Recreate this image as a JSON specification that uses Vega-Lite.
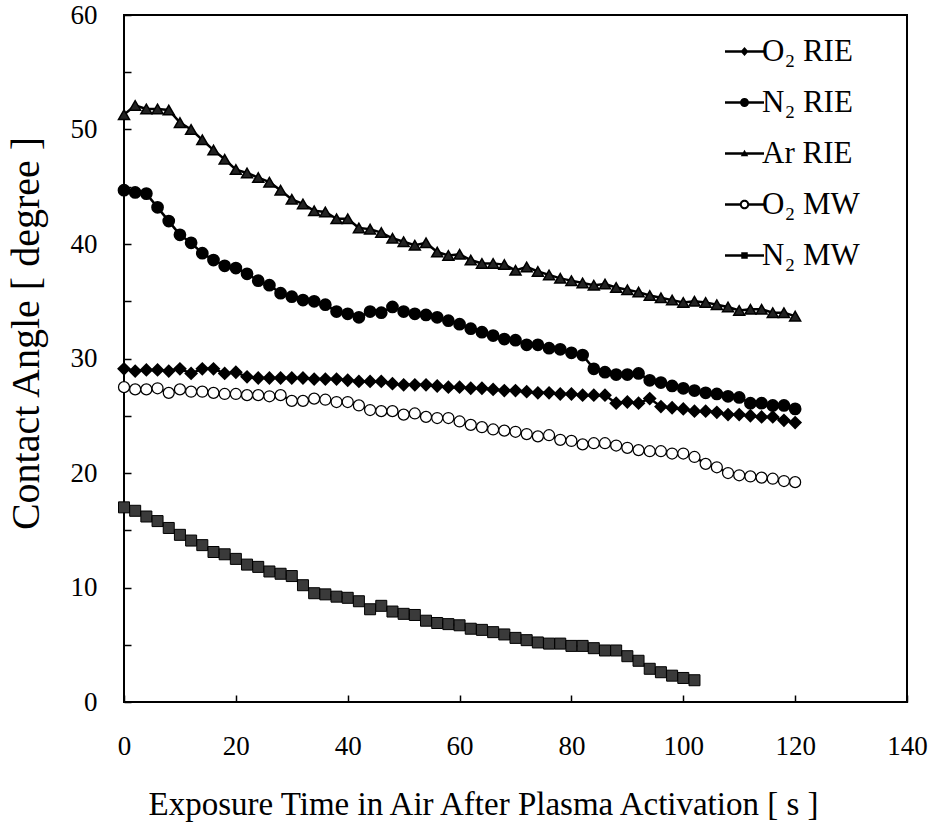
{
  "$schema": "https://vega.github.io/schema/vega-lite/v6.json",
  "autosize": "none",
  "padding": {"left": 124, "top": 15, "right": 25, "bottom": 121},
  "width": 783,
  "height": 687,
  "background": "white",
  "config": {
    "view": {"stroke": "black", "strokeWidth": 2},
    "font": "Liberation Serif",
    "axis": {"grid": false, "domain": false, "labelFont": "Liberation Serif", "titleFont": "Liberation Serif", "labelColor": "black", "titleColor": "black", "tickColor": "black", "titleFontWeight": "normal"}
  },
  "data": {"values": [
    {"s":"O₂ RIE","t":0,"y":29.1},{"s":"O₂ RIE","t":2,"y":28.9},{"s":"O₂ RIE","t":4,"y":29.0},{"s":"O₂ RIE","t":6,"y":29.0},{"s":"O₂ RIE","t":8,"y":28.9},{"s":"O₂ RIE","t":10,"y":29.1},{"s":"O₂ RIE","t":12,"y":28.7},{"s":"O₂ RIE","t":14,"y":29.1},{"s":"O₂ RIE","t":16,"y":29.1},{"s":"O₂ RIE","t":18,"y":28.7},{"s":"O₂ RIE","t":20,"y":28.8},{"s":"O₂ RIE","t":22,"y":28.4},{"s":"O₂ RIE","t":24,"y":28.3},{"s":"O₂ RIE","t":26,"y":28.3},{"s":"O₂ RIE","t":28,"y":28.3},{"s":"O₂ RIE","t":30,"y":28.3},{"s":"O₂ RIE","t":32,"y":28.3},{"s":"O₂ RIE","t":34,"y":28.2},{"s":"O₂ RIE","t":36,"y":28.2},{"s":"O₂ RIE","t":38,"y":28.2},{"s":"O₂ RIE","t":40,"y":28.1},{"s":"O₂ RIE","t":42,"y":28.0},{"s":"O₂ RIE","t":44,"y":28.0},{"s":"O₂ RIE","t":46,"y":28.0},{"s":"O₂ RIE","t":48,"y":27.8},{"s":"O₂ RIE","t":50,"y":27.7},{"s":"O₂ RIE","t":52,"y":27.7},{"s":"O₂ RIE","t":54,"y":27.7},{"s":"O₂ RIE","t":56,"y":27.6},{"s":"O₂ RIE","t":58,"y":27.5},{"s":"O₂ RIE","t":60,"y":27.5},{"s":"O₂ RIE","t":62,"y":27.4},{"s":"O₂ RIE","t":64,"y":27.4},{"s":"O₂ RIE","t":66,"y":27.3},{"s":"O₂ RIE","t":68,"y":27.2},{"s":"O₂ RIE","t":70,"y":27.2},{"s":"O₂ RIE","t":72,"y":27.1},{"s":"O₂ RIE","t":74,"y":27.0},{"s":"O₂ RIE","t":76,"y":27.0},{"s":"O₂ RIE","t":78,"y":26.9},{"s":"O₂ RIE","t":80,"y":26.9},{"s":"O₂ RIE","t":82,"y":26.8},{"s":"O₂ RIE","t":84,"y":26.8},{"s":"O₂ RIE","t":86,"y":26.8},{"s":"O₂ RIE","t":88,"y":26.1},{"s":"O₂ RIE","t":90,"y":26.2},{"s":"O₂ RIE","t":92,"y":26.1},{"s":"O₂ RIE","t":94,"y":26.5},{"s":"O₂ RIE","t":96,"y":25.8},{"s":"O₂ RIE","t":98,"y":25.7},{"s":"O₂ RIE","t":100,"y":25.6},{"s":"O₂ RIE","t":102,"y":25.4},{"s":"O₂ RIE","t":104,"y":25.4},{"s":"O₂ RIE","t":106,"y":25.3},{"s":"O₂ RIE","t":108,"y":25.1},{"s":"O₂ RIE","t":110,"y":25.1},{"s":"O₂ RIE","t":112,"y":25.0},{"s":"O₂ RIE","t":114,"y":24.9},{"s":"O₂ RIE","t":116,"y":24.9},{"s":"O₂ RIE","t":118,"y":24.6},{"s":"O₂ RIE","t":120,"y":24.4},
    {"s":"N₂ RIE","t":0,"y":44.7},{"s":"N₂ RIE","t":2,"y":44.5},{"s":"N₂ RIE","t":4,"y":44.4},{"s":"N₂ RIE","t":6,"y":43.2},{"s":"N₂ RIE","t":8,"y":42.0},{"s":"N₂ RIE","t":10,"y":40.8},{"s":"N₂ RIE","t":12,"y":40.1},{"s":"N₂ RIE","t":14,"y":39.2},{"s":"N₂ RIE","t":16,"y":38.6},{"s":"N₂ RIE","t":18,"y":38.1},{"s":"N₂ RIE","t":20,"y":37.9},{"s":"N₂ RIE","t":22,"y":37.4},{"s":"N₂ RIE","t":24,"y":36.8},{"s":"N₂ RIE","t":26,"y":36.4},{"s":"N₂ RIE","t":28,"y":35.7},{"s":"N₂ RIE","t":30,"y":35.4},{"s":"N₂ RIE","t":32,"y":35.1},{"s":"N₂ RIE","t":34,"y":35.0},{"s":"N₂ RIE","t":36,"y":34.7},{"s":"N₂ RIE","t":38,"y":34.1},{"s":"N₂ RIE","t":40,"y":33.9},{"s":"N₂ RIE","t":42,"y":33.6},{"s":"N₂ RIE","t":44,"y":34.1},{"s":"N₂ RIE","t":46,"y":34.0},{"s":"N₂ RIE","t":48,"y":34.5},{"s":"N₂ RIE","t":50,"y":34.1},{"s":"N₂ RIE","t":52,"y":33.9},{"s":"N₂ RIE","t":54,"y":33.8},{"s":"N₂ RIE","t":56,"y":33.6},{"s":"N₂ RIE","t":58,"y":33.3},{"s":"N₂ RIE","t":60,"y":33.0},{"s":"N₂ RIE","t":62,"y":32.6},{"s":"N₂ RIE","t":64,"y":32.3},{"s":"N₂ RIE","t":66,"y":32.0},{"s":"N₂ RIE","t":68,"y":31.7},{"s":"N₂ RIE","t":70,"y":31.6},{"s":"N₂ RIE","t":72,"y":31.2},{"s":"N₂ RIE","t":74,"y":31.2},{"s":"N₂ RIE","t":76,"y":30.9},{"s":"N₂ RIE","t":78,"y":30.8},{"s":"N₂ RIE","t":80,"y":30.5},{"s":"N₂ RIE","t":82,"y":30.3},{"s":"N₂ RIE","t":84,"y":29.1},{"s":"N₂ RIE","t":86,"y":28.8},{"s":"N₂ RIE","t":88,"y":28.6},{"s":"N₂ RIE","t":90,"y":28.6},{"s":"N₂ RIE","t":92,"y":28.7},{"s":"N₂ RIE","t":94,"y":28.1},{"s":"N₂ RIE","t":96,"y":27.9},{"s":"N₂ RIE","t":98,"y":27.6},{"s":"N₂ RIE","t":100,"y":27.4},{"s":"N₂ RIE","t":102,"y":27.2},{"s":"N₂ RIE","t":104,"y":27.0},{"s":"N₂ RIE","t":106,"y":26.9},{"s":"N₂ RIE","t":108,"y":26.7},{"s":"N₂ RIE","t":110,"y":26.6},{"s":"N₂ RIE","t":112,"y":26.1},{"s":"N₂ RIE","t":114,"y":26.1},{"s":"N₂ RIE","t":116,"y":25.9},{"s":"N₂ RIE","t":118,"y":25.9},{"s":"N₂ RIE","t":120,"y":25.6},
    {"s":"Ar RIE","t":0,"y":51.3},{"s":"Ar RIE","t":2,"y":52.1},{"s":"Ar RIE","t":4,"y":51.8},{"s":"Ar RIE","t":6,"y":51.8},{"s":"Ar RIE","t":8,"y":51.7},{"s":"Ar RIE","t":10,"y":50.6},{"s":"Ar RIE","t":12,"y":50.0},{"s":"Ar RIE","t":14,"y":49.1},{"s":"Ar RIE","t":16,"y":48.2},{"s":"Ar RIE","t":18,"y":47.4},{"s":"Ar RIE","t":20,"y":46.5},{"s":"Ar RIE","t":22,"y":46.2},{"s":"Ar RIE","t":24,"y":45.8},{"s":"Ar RIE","t":26,"y":45.4},{"s":"Ar RIE","t":28,"y":44.7},{"s":"Ar RIE","t":30,"y":43.9},{"s":"Ar RIE","t":32,"y":43.5},{"s":"Ar RIE","t":34,"y":42.9},{"s":"Ar RIE","t":36,"y":42.8},{"s":"Ar RIE","t":38,"y":42.2},{"s":"Ar RIE","t":40,"y":42.2},{"s":"Ar RIE","t":42,"y":41.4},{"s":"Ar RIE","t":44,"y":41.3},{"s":"Ar RIE","t":46,"y":41.0},{"s":"Ar RIE","t":48,"y":40.5},{"s":"Ar RIE","t":50,"y":40.2},{"s":"Ar RIE","t":52,"y":39.9},{"s":"Ar RIE","t":54,"y":40.1},{"s":"Ar RIE","t":56,"y":39.3},{"s":"Ar RIE","t":58,"y":39.0},{"s":"Ar RIE","t":60,"y":39.1},{"s":"Ar RIE","t":62,"y":38.6},{"s":"Ar RIE","t":64,"y":38.3},{"s":"Ar RIE","t":66,"y":38.3},{"s":"Ar RIE","t":68,"y":38.2},{"s":"Ar RIE","t":70,"y":37.7},{"s":"Ar RIE","t":72,"y":38.0},{"s":"Ar RIE","t":74,"y":37.6},{"s":"Ar RIE","t":76,"y":37.3},{"s":"Ar RIE","t":78,"y":37.0},{"s":"Ar RIE","t":80,"y":36.8},{"s":"Ar RIE","t":82,"y":36.6},{"s":"Ar RIE","t":84,"y":36.4},{"s":"Ar RIE","t":86,"y":36.5},{"s":"Ar RIE","t":88,"y":36.2},{"s":"Ar RIE","t":90,"y":36.0},{"s":"Ar RIE","t":92,"y":35.8},{"s":"Ar RIE","t":94,"y":35.5},{"s":"Ar RIE","t":96,"y":35.3},{"s":"Ar RIE","t":98,"y":35.1},{"s":"Ar RIE","t":100,"y":34.9},{"s":"Ar RIE","t":102,"y":35.0},{"s":"Ar RIE","t":104,"y":34.9},{"s":"Ar RIE","t":106,"y":34.7},{"s":"Ar RIE","t":108,"y":34.5},{"s":"Ar RIE","t":110,"y":34.2},{"s":"Ar RIE","t":112,"y":34.3},{"s":"Ar RIE","t":114,"y":34.3},{"s":"Ar RIE","t":116,"y":34.0},{"s":"Ar RIE","t":118,"y":34.0},{"s":"Ar RIE","t":120,"y":33.7},
    {"s":"O₂ MW","t":0,"y":27.5},{"s":"O₂ MW","t":2,"y":27.3},{"s":"O₂ MW","t":4,"y":27.3},{"s":"O₂ MW","t":6,"y":27.4},{"s":"O₂ MW","t":8,"y":27.0},{"s":"O₂ MW","t":10,"y":27.3},{"s":"O₂ MW","t":12,"y":27.1},{"s":"O₂ MW","t":14,"y":27.1},{"s":"O₂ MW","t":16,"y":27.0},{"s":"O₂ MW","t":18,"y":26.9},{"s":"O₂ MW","t":20,"y":26.9},{"s":"O₂ MW","t":22,"y":26.8},{"s":"O₂ MW","t":24,"y":26.8},{"s":"O₂ MW","t":26,"y":26.7},{"s":"O₂ MW","t":28,"y":26.8},{"s":"O₂ MW","t":30,"y":26.3},{"s":"O₂ MW","t":32,"y":26.3},{"s":"O₂ MW","t":34,"y":26.5},{"s":"O₂ MW","t":36,"y":26.4},{"s":"O₂ MW","t":38,"y":26.2},{"s":"O₂ MW","t":40,"y":26.2},{"s":"O₂ MW","t":42,"y":25.9},{"s":"O₂ MW","t":44,"y":25.5},{"s":"O₂ MW","t":46,"y":25.4},{"s":"O₂ MW","t":48,"y":25.4},{"s":"O₂ MW","t":50,"y":25.1},{"s":"O₂ MW","t":52,"y":25.2},{"s":"O₂ MW","t":54,"y":24.9},{"s":"O₂ MW","t":56,"y":24.8},{"s":"O₂ MW","t":58,"y":24.8},{"s":"O₂ MW","t":60,"y":24.5},{"s":"O₂ MW","t":62,"y":24.2},{"s":"O₂ MW","t":64,"y":24.0},{"s":"O₂ MW","t":66,"y":23.8},{"s":"O₂ MW","t":68,"y":23.7},{"s":"O₂ MW","t":70,"y":23.6},{"s":"O₂ MW","t":72,"y":23.4},{"s":"O₂ MW","t":74,"y":23.2},{"s":"O₂ MW","t":76,"y":23.3},{"s":"O₂ MW","t":78,"y":22.9},{"s":"O₂ MW","t":80,"y":22.8},{"s":"O₂ MW","t":82,"y":22.5},{"s":"O₂ MW","t":84,"y":22.6},{"s":"O₂ MW","t":86,"y":22.6},{"s":"O₂ MW","t":88,"y":22.4},{"s":"O₂ MW","t":90,"y":22.2},{"s":"O₂ MW","t":92,"y":22.0},{"s":"O₂ MW","t":94,"y":21.9},{"s":"O₂ MW","t":96,"y":21.9},{"s":"O₂ MW","t":98,"y":21.7},{"s":"O₂ MW","t":100,"y":21.7},{"s":"O₂ MW","t":102,"y":21.4},{"s":"O₂ MW","t":104,"y":20.8},{"s":"O₂ MW","t":106,"y":20.5},{"s":"O₂ MW","t":108,"y":20.0},{"s":"O₂ MW","t":110,"y":19.8},{"s":"O₂ MW","t":112,"y":19.7},{"s":"O₂ MW","t":114,"y":19.6},{"s":"O₂ MW","t":116,"y":19.5},{"s":"O₂ MW","t":118,"y":19.3},{"s":"O₂ MW","t":120,"y":19.2},
    {"s":"N₂ MW","t":0,"y":17.0},{"s":"N₂ MW","t":2,"y":16.7},{"s":"N₂ MW","t":4,"y":16.2},{"s":"N₂ MW","t":6,"y":15.8},{"s":"N₂ MW","t":8,"y":15.2},{"s":"N₂ MW","t":10,"y":14.6},{"s":"N₂ MW","t":12,"y":14.1},{"s":"N₂ MW","t":14,"y":13.7},{"s":"N₂ MW","t":16,"y":13.1},{"s":"N₂ MW","t":18,"y":12.9},{"s":"N₂ MW","t":20,"y":12.5},{"s":"N₂ MW","t":22,"y":12.0},{"s":"N₂ MW","t":24,"y":11.8},{"s":"N₂ MW","t":26,"y":11.4},{"s":"N₂ MW","t":28,"y":11.2},{"s":"N₂ MW","t":30,"y":11.0},{"s":"N₂ MW","t":32,"y":10.2},{"s":"N₂ MW","t":34,"y":9.5},{"s":"N₂ MW","t":36,"y":9.4},{"s":"N₂ MW","t":38,"y":9.2},{"s":"N₂ MW","t":40,"y":9.1},{"s":"N₂ MW","t":42,"y":8.8},{"s":"N₂ MW","t":44,"y":8.1},{"s":"N₂ MW","t":46,"y":8.4},{"s":"N₂ MW","t":48,"y":7.9},{"s":"N₂ MW","t":50,"y":7.7},{"s":"N₂ MW","t":52,"y":7.6},{"s":"N₂ MW","t":54,"y":7.1},{"s":"N₂ MW","t":56,"y":6.9},{"s":"N₂ MW","t":58,"y":6.8},{"s":"N₂ MW","t":60,"y":6.7},{"s":"N₂ MW","t":62,"y":6.4},{"s":"N₂ MW","t":64,"y":6.3},{"s":"N₂ MW","t":66,"y":6.1},{"s":"N₂ MW","t":68,"y":5.9},{"s":"N₂ MW","t":70,"y":5.6},{"s":"N₂ MW","t":72,"y":5.4},{"s":"N₂ MW","t":74,"y":5.2},{"s":"N₂ MW","t":76,"y":5.1},{"s":"N₂ MW","t":78,"y":5.1},{"s":"N₂ MW","t":80,"y":4.9},{"s":"N₂ MW","t":82,"y":4.9},{"s":"N₂ MW","t":84,"y":4.7},{"s":"N₂ MW","t":86,"y":4.5},{"s":"N₂ MW","t":88,"y":4.5},{"s":"N₂ MW","t":90,"y":4.0},{"s":"N₂ MW","t":92,"y":3.6},{"s":"N₂ MW","t":94,"y":2.9},{"s":"N₂ MW","t":96,"y":2.6},{"s":"N₂ MW","t":98,"y":2.3},{"s":"N₂ MW","t":100,"y":2.1},{"s":"N₂ MW","t":102,"y":1.9}
  ]},
  "encoding": {
    "x": {"field": "t", "type": "quantitative", "scale": {"domain": [0, 140], "nice": false, "zero": false},
      "axis": {"values": [0, 20, 40, 60, 80, 100, 120, 140], "tickSize": -7, "tickWidth": 1.5, "labelFontSize": 27, "labelPadding": 38, "labelFlush": false,
        "title": "Exposure Time in Air After Plasma Activation [ s ]", "titleFontSize": 33, "titleX": 359, "titleY": 112, "titleBaseline": "alphabetic", "titleAlign": "center"}},
    "y": {"field": "y", "type": "quantitative", "scale": {"domain": [0, 60], "nice": false},
      "axis": {"values": [0, 5, 10, 15, 20, 25, 30, 35, 40, 45, 50, 55, 60], "labelExpr": "datum.value % 10 === 0 ? datum.label : ''", "tickSize": -7, "tickWidth": 1.5, "labelFontSize": 27, "labelPadding": 34, "labelFlush": false,
        "title": "Contact Angle [ degree ]", "titleFontSize": 40, "titleX": -86, "titleY": 318, "titleBaseline": "alphabetic", "titleAlign": "center", "titleAngle": -90}}
  },
  "layer": [
    {
      "mark": {"type": "line", "color": "black", "strokeWidth": 2.5},
      "encoding": {"detail": {"field": "s"}, "order": {"field": "t", "type": "quantitative"}}
    },
    {
      "mark": {"type": "point", "filled": true, "stroke": "black", "opacity": 1},
      "encoding": {
        "shape": {"field": "s", "type": "nominal", "legend": null,
          "scale": {"domain": ["N₂ MW", "O₂ MW", "Ar RIE", "N₂ RIE", "O₂ RIE"], "range": ["square", "circle", "triangle-up", "circle", "diamond"]}},
        "fill": {"field": "s", "type": "nominal", "legend": null,
          "scale": {"domain": ["N₂ MW", "O₂ MW", "Ar RIE", "N₂ RIE", "O₂ RIE"], "range": ["#3a3a3a", "white", "#222", "black", "black"]}},
        "size": {"field": "s", "type": "nominal", "legend": null,
          "scale": {"domain": ["N₂ MW", "O₂ MW", "Ar RIE", "N₂ RIE", "O₂ RIE"], "range": [121, 121, 180, 160, 150]}},
        "strokeWidth": {"field": "s", "type": "nominal", "legend": null,
          "scale": {"domain": ["N₂ MW", "O₂ MW", "Ar RIE", "N₂ RIE", "O₂ RIE"], "range": [1, 2, 1, 1, 1]}}
      }
    },
    {
      "mark": {"type": "point", "filled": true, "stroke": "black", "strokeWidth": 2, "opacity": 0},
      "encoding": {
        "shape": {"field": "s", "type": "nominal",
          "scale": {"domain": ["O₂ RIE", "N₂ RIE", "Ar RIE", "O₂ MW", "N₂ MW"],
            "range": [
              "M-3.9,-0.25L3.9,-0.25L3.9,0.25L-3.9,0.25ZM0,-0.9L0.8,0L0,0.9L-0.8,0Z",
              "M-3.9,-0.25L3.9,-0.25L3.9,0.25L-3.9,0.25ZM-0.9,0A0.9,0.9,0,1,1,0.9,0A0.9,0.9,0,1,1,-0.9,0Z",
              "M-3.9,-0.25L3.9,-0.25L3.9,0.25L-3.9,0.25ZM-0.75,0.55L0,-0.75L0.75,0.55Z",
              "M-3.9,-0.25L-0.85,-0.25L-0.85,0.25L-3.9,0.25ZM0.85,-0.25L3.9,-0.25L3.9,0.25L0.85,0.25ZM-0.95,0A0.95,0.95,0,1,1,0.95,0A0.95,0.95,0,1,1,-0.95,0ZM-0.55,0A0.55,0.55,0,1,0,0.55,0A0.55,0.55,0,1,0,-0.55,0Z",
              "M-3.9,-0.25L3.9,-0.25L3.9,0.25L-3.9,0.25ZM-0.65,-0.65L0.65,-0.65L0.65,0.65L-0.65,0.65Z"
            ]},
          "legend": {"title": null, "orient": "none", "legendX": 605, "legendY": 21, "padding": 0, "symbolSize": 100,
            "symbolOpacity": 1, "symbolStrokeColor": "black", "symbolStrokeWidth": 2,
            "labelFont": "Liberation Serif", "labelFontSize": 31, "labelColor": "black", "labelOffset": 2, "rowPadding": 19}},
        "fill": {"field": "s", "type": "nominal",
          "scale": {"domain": ["O₂ RIE", "N₂ RIE", "Ar RIE", "O₂ MW", "N₂ MW"], "range": ["black", "black", "black", "black", "black"]}}
      }
    }
  ],
  "resolve": {"scale": {"shape": "independent", "fill": "independent"}, "legend": {"shape": "independent", "fill": "independent"}}
}
